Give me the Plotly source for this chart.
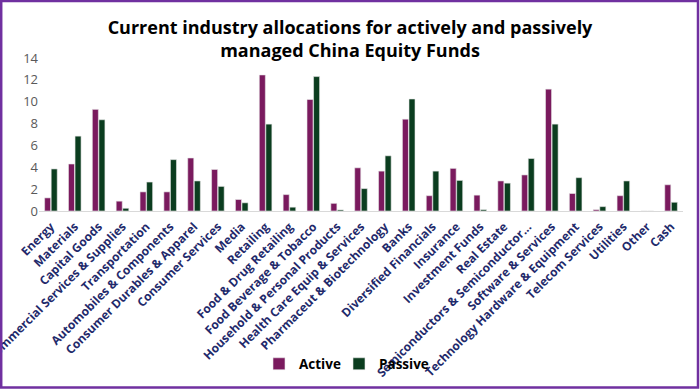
import plotly.graph_objects as go

categories = ["Energy", "Materials", "Capital Goods", "Commercial Services & Supplies",
              "Transportation", "Automobiles & Components", "Consumer Durables & Apparel",
              "Consumer Services", "Media", "Retailing", "Food & Drug Retailing",
              "Food Beverage & Tobacco", "Household & Personal Products",
              "Health Care Equip & Services", "Pharmaceut & Biotechnology", "Banks",
              "Diversified Financials", "Insurance", "Investment Funds", "Real Estate",
              "Semiconductors & Semiconductor...", "Software & Services",
              "Technology Hardware & Equipment", "Telecom Services", "Utilities",
              "Other", "Cash"]
active = [1.2, 4.3, 9.3, 0.9, 1.75, 1.75, 4.85, 3.8, 1.05, 12.45, 1.5, 10.2, 0.7,
          3.95, 3.65, 8.4, 1.4, 3.9, 1.45, 2.75, 3.3, 11.15, 1.6, 0.12, 1.4, 0, 2.4]
passive = [3.85, 6.85, 8.35, 0.25, 2.65, 4.7, 2.75, 2.25, 0.75, 7.95, 0.35, 12.3, 0.1,
           2.05, 5.05, 10.25, 3.65, 2.8, 0.12, 2.55, 4.8, 7.95, 3.05, 0.4, 2.75, 0, 0.8]

W, H = 700, 389
L, R, T, B = 39, 17, 58, 178
pw, ph = W - L - R, H - T - B

fig = go.Figure()
fig.add_trace(go.Bar(name="Active", x=categories, y=active, legend="legend",
                     marker=dict(color="#7A1A5E", line=dict(color="#E8E8E8", width=0.6))))
fig.add_trace(go.Bar(name="Passive", x=categories, y=passive, legend="legend2",
                     marker=dict(color="#0B3D1F", line=dict(color="#E8E8E8", width=0.6))))

leg_common = dict(orientation="h", xanchor="left", y=(211 - 364) / ph, yanchor="middle",
                  bgcolor="rgba(0,0,0,0)", itemwidth=30,
                  font=dict(size=13.5, color="#000000", family="Open Sans", weight="bold"))

fig.update_layout(
    width=W, height=H,
    margin=dict(l=L, r=R, t=T, b=B, autoexpand=False),
    paper_bgcolor="white", plot_bgcolor="white",
    font=dict(family="Open Sans", color="#000000"),
    title=dict(text="<b>Current industry allocations for actively and passively<br>managed China Equity Funds</b>",
               x=0.5, xanchor="center", y=1 - 34 / H, yanchor="middle",
               font=dict(size=18, color="#000000", family="Open Sans")),
    barmode="group", bargap=0.45, bargroupgap=0.08,
    showlegend=True,
    legend=dict(x=(259 - L) / pw, **leg_common),
    legend2=dict(x=(339 - L) / pw, **leg_common),
    xaxis=dict(tickangle=-45, automargin=False, ticklabelstandoff=3,
               tickfont=dict(size=12, color="#1F2A6B", family="Open Sans", weight="bold"),
               showline=True, linecolor="#D9D9D9", linewidth=1, ticks="",
               showgrid=False),
    yaxis=dict(range=[0, 14], dtick=2, automargin=False,
               tickfont=dict(size=13, color="#595959", family="Open Sans"),
               showgrid=False, zeroline=False, showline=False, ticks=""),
    shapes=[dict(type="rect", xref="paper", yref="paper",
                 x0=(1.2 - L) / pw, x1=(W - 2 - L) / pw,
                 y0=-(B - 1.5) / ph, y1=1 + (T - 1) / ph,
                 line=dict(color="#7030A0", width=2.5), layer="above")],
)
fig.write_html("out.html", config={"displayModeBar": False})

with open("out.html", "r", encoding="utf-8") as f:
    html = f.read()
html = html.replace("<head>", "<head><style>html,body{margin:0;padding:0;overflow:hidden;}</style>", 1)
with open("out.html", "w", encoding="utf-8") as f:
    f.write(html)
